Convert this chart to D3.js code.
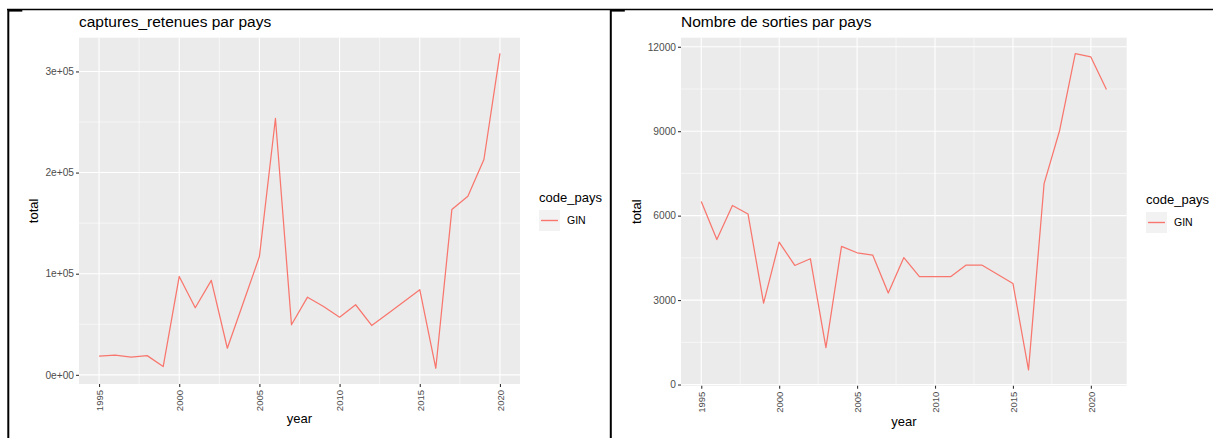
<!DOCTYPE html>
<html>
<head>
<meta charset="utf-8">
<script src="https://cdn.jsdelivr.net/npm/d3@7"></script>
<style>
  body { margin: 0; background: #fff; }
  svg { display: block; font-family: "Liberation Sans", Arial, sans-serif; }
</style>
</head>
<body>
<svg id="chart" width="1213" height="438"></svg>
<script>
// captures_retenues par pays (GIN)
const yearsCaptures = d3.range(1995, 2021);
const captures = [18400, 19400, 17400, 19000, 8200, 97300, 66300, 93400, 26300, 71500,
  117000, 253500, 49500, 76800, 67500, 57000, 69300, 48800, 60500, 72300,
  84200, 6500, 163400, 176500, 212900, 317800];
const capturesTicks = [0, 100000, 200000, 300000];
const capturesTickLabels = ["0e+00", "1e+05", "2e+05", "3e+05"];
const capturesMinor = [50000, 150000, 250000];

// Nombre de sorties par pays (GIN)
const yearsSorties = d3.range(1995, 2022);
const sorties = [6500, 5150, 6360, 6060, 2890, 5060, 4230, 4470, 1310, 4910,
  4680, 4600, 3250, 4510, 3830, 3830, 3830, 4245, 4245, 3920,
  3590, 520, 7140, 9035, 11760, 11640, 10480];
const sortiesTicks = [0, 3000, 6000, 9000, 12000];
const sortiesTickLabels = ["0", "3000", "6000", "9000", "12000"];
const sortiesMinor = [1500, 4500, 7500, 10500];

const yearTicks = [1995, 2000, 2005, 2010, 2015, 2020];
const yearMinor = [1997.5, 2002.5, 2007.5, 2012.5, 2017.5];

const lineColor = "#F8766D";
const svg = d3.select("#chart");

// ggplot-like 5% expansion
const expand = (ext) => {
  const r = ext[1] - ext[0];
  return [ext[0] - 0.05 * r, ext[1] + 0.05 * r];
};

function drawPanel(cfg) {
  const x = d3.scaleLinear().domain(expand(d3.extent(cfg.years))).range([cfg.left, cfg.right]);
  const y = d3.scaleLinear().domain(expand(d3.extent(cfg.values))).range([cfg.bottom, cfg.top]);

  const g = svg.append("g");

  // title
  g.append("text")
    .attr("x", cfg.left)
    .attr("y", 27)
    .attr("font-size", "15.5px")
    .attr("fill", "#000")
    .text(cfg.title);

  // panel background
  g.append("rect")
    .attr("x", cfg.left)
    .attr("y", cfg.top)
    .attr("width", cfg.right - cfg.left)
    .attr("height", cfg.bottom - cfg.top)
    .attr("fill", "#EBEBEB");

  // minor grid
  g.selectAll(".minx").data(yearMinor).enter().append("line")
    .attr("x1", (d) => x(d)).attr("x2", (d) => x(d))
    .attr("y1", cfg.top).attr("y2", cfg.bottom)
    .attr("stroke", "#fff").attr("stroke-width", 0.55);
  g.selectAll(".miny").data(cfg.minor).enter().append("line")
    .attr("y1", (d) => y(d)).attr("y2", (d) => y(d))
    .attr("x1", cfg.left).attr("x2", cfg.right)
    .attr("stroke", "#fff").attr("stroke-width", 0.55);

  // major grid
  g.selectAll(".majx").data(yearTicks).enter().append("line")
    .attr("x1", (d) => x(d)).attr("x2", (d) => x(d))
    .attr("y1", cfg.top).attr("y2", cfg.bottom)
    .attr("stroke", "#fff").attr("stroke-width", 1.1);
  g.selectAll(".majy").data(cfg.ticks).enter().append("line")
    .attr("y1", (d) => y(d)).attr("y2", (d) => y(d))
    .attr("x1", cfg.left).attr("x2", cfg.right)
    .attr("stroke", "#fff").attr("stroke-width", 1.1);

  // data line
  const line = d3.line()
    .x((d, i) => x(cfg.years[i]))
    .y((d) => y(d));
  g.append("path")
    .datum(cfg.values)
    .attr("d", line)
    .attr("fill", "none")
    .attr("stroke", lineColor)
    .attr("stroke-width", 1.25)
    .attr("stroke-linejoin", "round");

  // y axis
  const yAxis = g.append("g")
    .attr("transform", `translate(${cfg.left},0)`)
    .call(d3.axisLeft(y).tickValues(cfg.ticks)
      .tickFormat((d, i) => cfg.tickLabels[i])
      .tickSize(3).tickPadding(2));
  yAxis.select(".domain").remove();
  yAxis.selectAll("line").attr("stroke", "#333").attr("stroke-width", 1.1);
  yAxis.selectAll("text")
    .attr("fill", "#4D4D4D")
    .attr("font-size", "10.2px")
    .attr("font-family", "Liberation Sans, Arial, sans-serif");

  // x axis
  const xAxis = g.append("g")
    .attr("transform", `translate(0,${cfg.bottom})`)
    .call(d3.axisBottom(x).tickValues(yearTicks).tickFormat(d3.format("d")).tickSize(3));
  xAxis.select(".domain").remove();
  xAxis.selectAll("line").attr("stroke", "#333").attr("stroke-width", 1.1);
  xAxis.selectAll("text")
    .attr("fill", "#4D4D4D")
    .attr("font-size", "9.5px")
    .attr("font-family", "Liberation Sans, Arial, sans-serif")
    .attr("transform", "rotate(-90)")
    .attr("x", -6)
    .attr("y", 0)
    .attr("dy", "0.35em")
    .attr("text-anchor", "end");

  // axis titles
  g.append("text")
    .attr("transform", `translate(${cfg.yTitleX},${(cfg.top + cfg.bottom) / 2}) rotate(-90)`)
    .attr("text-anchor", "middle")
    .attr("font-size", "13px")
    .text("total");
  g.append("text")
    .attr("x", (cfg.left + cfg.right) / 2)
    .attr("y", cfg.xTitleY)
    .attr("text-anchor", "middle")
    .attr("font-size", "13px")
    .text("year");

  // legend
  const lg = g.append("g").attr("transform", `translate(${cfg.legendX},${cfg.legendY})`);
  lg.append("text")
    .attr("x", 0).attr("y", 0)
    .attr("font-size", "13px")
    .text("code_pays");
  lg.append("rect")
    .attr("x", 0).attr("y", 8)
    .attr("width", 21).attr("height", 21)
    .attr("fill", "#F2F2F2");
  lg.append("line")
    .attr("x1", 2).attr("x2", 19)
    .attr("y1", 18.5).attr("y2", 18.5)
    .attr("stroke", lineColor).attr("stroke-width", 1.4);
  lg.append("text")
    .attr("x", 28).attr("y", 18.5)
    .attr("dy", "0.35em")
    .attr("font-size", "10.5px")
    .text("GIN");
}

drawPanel({
  title: "captures_retenues par pays",
  years: yearsCaptures, values: captures,
  ticks: capturesTicks, tickLabels: capturesTickLabels, minor: capturesMinor,
  left: 79, right: 520, top: 37.7, bottom: 384,
  yTitleX: 38, xTitleY: 422.5,
  legendX: 539, legendY: 202
});

drawPanel({
  title: "Nombre de sorties par pays",
  years: yearsSorties, values: sorties,
  ticks: sortiesTicks, tickLabels: sortiesTickLabels, minor: sortiesMinor,
  left: 681, right: 1126.7, top: 37.7, bottom: 385.7,
  yTitleX: 640.5, xTitleY: 426,
  legendX: 1146, legendY: 204
});

// frame lines of the screenshot
svg.append("line")
  .attr("x1", 7).attr("x2", 1213).attr("y1", 9.5).attr("y2", 9.5)
  .attr("stroke", "#000").attr("stroke-width", 1.3);
[8.3, 610.8].forEach((fx) => {
  svg.append("line")
    .attr("x1", fx).attr("x2", fx).attr("y1", 9).attr("y2", 438)
    .attr("stroke", "#000").attr("stroke-width", 2);
  svg.append("rect")
    .attr("x", fx).attr("y", 10).attr("width", 14).attr("height", 1.6)
    .attr("fill", "#000");
});
</script>
</body>
</html>
